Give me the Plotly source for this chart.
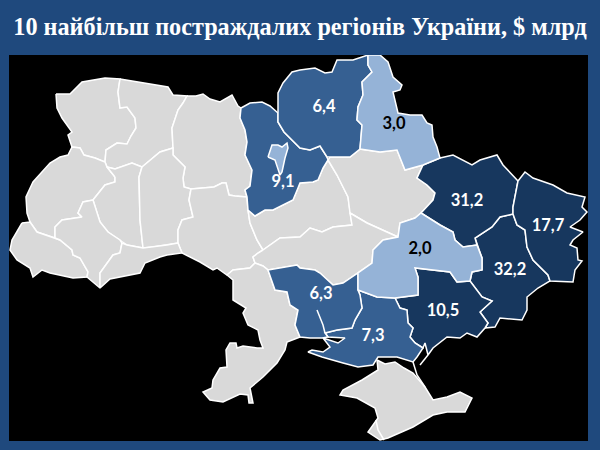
import plotly.graph_objects as go

# damage by region, $ bn
regions = ["Донецька", "Харківська", "Луганська", "Запорізька", "Київська",
           "Херсонська", "Чернігівська", "Миколаївська", "Сумська", "Дніпропетровська"]
values = [32.2, 31.2, 17.7, 10.5, 9.1, 7.3, 6.4, 6.3, 3.0, 2.0]
value_labels = ["32,2", "31,2", "17,7", "10,5", "9,1", "7,3", "6,4", "6,3", "3,0", "2,0"]

title = "10 найбільш постраждалих регіонів України, $ млрд"

BG = "#1F497D"
GREY = "#D9D9D9"
DARK = "#17375E"
MID = "#366092"
LIGHT = "#95B3D7"

# map outlines, traced in page pixels
outlines = {
    "Волинська": [(56,94),(70,94),(82,82),(105,78),(120,79),(118,92),(120,108),(127,107),(135,118),(136,128),(131,136),(127,144),(117,143),(106,150),(105,162),(95,158),(84,155),(80,148),(72,147),(68,135),(72,132),(62,118),(57,108)],
    "Рівненська": [(120,79),(145,83),(168,87),(173,95),(187,96),(183,103),(178,110),(172,128),(173,148),(160,152),(142,167),(132,163),(115,169),(107,167),(105,162),(106,150),(117,143),(127,144),(131,136),(136,128),(135,118),(127,107),(120,108),(118,92)],
    "Житомирська": [(187,96),(196,96),(203,94),(210,99),(220,102),(232,95),(238,106),(241,108),(240,118),(245,130),(247,142),(245,155),(252,170),(250,186),(245,190),(247,197),(235,196),(229,195),(226,183),(222,183),(214,187),(191,189),(184,187),(183,178),(185,167),(173,155),(173,148),(172,128),(178,110),(183,103)],
    "Львівська": [(30,222),(27,213),(26,197),(33,182),(50,163),(60,157),(68,155),(72,147),(80,148),(84,155),(95,158),(105,162),(107,167),(115,177),(115,182),(105,185),(93,200),(83,202),(78,213),(82,217),(62,220),(55,227),(55,238),(37,232)],
    "Тернопільська": [(115,177),(107,167),(115,169),(132,163),(142,167),(139,177),(140,220),(143,248),(127,245),(120,240),(108,232),(100,222),(93,200),(105,185),(115,182)],
    "Хмельницька": [(142,167),(160,152),(173,148),(173,155),(185,167),(183,178),(184,187),(191,189),(189,200),(193,217),(182,220),(178,230),(178,243),(167,245),(153,247),(143,248),(140,220),(139,177)],
    "Вінницька": [(191,189),(214,187),(222,183),(226,183),(229,195),(235,196),(247,197),(248,210),(250,223),(257,240),(263,250),(258,253),(253,257),(255,263),(250,268),(233,270),(227,275),(217,268),(213,270),(200,262),(182,253),(178,243),(178,230),(182,220),(193,217),(189,200)],
    "Закарпатська": [(22,223),(30,222),(37,232),(55,238),(60,240),(72,250),(73,255),(80,258),(88,272),(87,277),(73,278),(50,273),(42,270),(33,277),(30,268),(17,260),(10,250),(12,240)],
    "Івано-Франківська": [(55,238),(55,227),(62,220),(82,217),(78,213),(83,202),(93,200),(100,222),(108,232),(120,240),(122,243),(120,253),(113,255),(100,273),(100,288),(87,277),(88,272),(80,258),(73,255),(72,250),(60,240)],
    "Чернівецька": [(122,243),(127,245),(143,248),(153,247),(167,245),(178,243),(182,253),(167,255),(160,257),(145,263),(140,273),(110,279),(100,288),(100,273),(113,255),(120,253)],
    "Черкаська": [(328,160),(337,175),(348,197),(350,213),(352,225),(333,227),(322,232),(310,228),(300,237),(280,238),(263,250),(257,240),(250,223),(248,210),(255,216),(265,210),(273,210),(293,200),(298,188),(300,183),(313,182),(318,180),(323,168)],
    "Полтавська": [(328,160),(330,157),(350,157),(360,149),(380,152),(397,150),(405,170),(423,165),(417,178),(427,185),(435,193),(433,200),(421,213),(415,218),(400,223),(398,237),(367,223),(350,213),(348,197),(337,175)],
    "Кіровоградська": [(263,250),(280,238),(300,237),(310,228),(322,232),(333,227),(352,225),(350,213),(367,223),(398,237),(383,240),(373,250),(372,263),(358,273),(343,283),(333,285),(320,273),(315,270),(300,268),(297,265),(268,270),(263,266),(255,263),(253,257),(258,253)],
    "Одеська": [(227,275),(233,270),(250,268),(255,263),(263,266),(268,270),(275,290),(287,292),(290,305),(298,310),(295,325),(300,337),(287,342),(285,350),(277,363),(263,377),(250,388),(253,403),(249,403),(248,395),(240,394),(223,402),(210,400),(203,392),(212,388),(213,380),(220,368),(227,367),(226,350),(230,343),(236,343),(237,348),(243,346),(257,348),(263,348),(260,340),(258,330),(248,325),(243,313),(246,308),(233,300),(233,280)],
    "Крим": [(377,360),(385,364),(395,362),(404,368),(413,373),(425,387),(433,400),(447,397),(460,392),(472,398),(465,412),(447,412),(433,415),(413,427),(388,438),(380,440),(368,432),(378,418),(375,408),(357,398),(340,395),(343,390),(362,380),(378,370)],
    "Донецька": [(475,238),(492,227),(500,217),(513,214),(517,225),(525,230),(527,247),(533,260),(548,275),(550,281),(538,288),(527,297),(527,310),(522,320),(500,318),(495,327),(485,328),(488,323),(480,312),(492,301),(482,297),(470,281),(472,272),(482,270),(482,258),(477,245)],
    "Харківська": [(423,165),(440,158),(453,155),(463,160),(472,165),(480,160),(497,155),(503,165),(518,181),(513,207),(513,214),(500,217),(492,227),(475,238),(477,245),(463,247),(455,240),(453,232),(440,225),(421,213),(433,200),(435,193),(427,185),(417,178)],
    "Луганська": [(518,181),(525,172),(533,178),(553,185),(567,193),(585,197),(582,207),(587,212),(580,220),(570,227),(583,232),(573,240),(570,245),(577,248),(578,260),(582,261),(575,270),(573,282),(550,281),(548,275),(533,260),(527,247),(525,230),(517,225),(513,214),(513,207)],
    "Запорізька": [(395,298),(418,295),(418,277),(415,268),(450,272),(457,282),(470,281),(482,297),(492,301),(480,312),(488,323),(485,328),(477,337),(467,333),(460,338),(447,337),(433,348),(428,355),(425,343),(423,348),(415,343),(410,337),(413,328),(408,323),(407,310),(400,308)],
    "Київська": [(241,108),(250,103),(262,102),(270,106),(278,113),(278,122),(284,132),(290,138),(300,148),(310,150),(320,146),(327,157),(328,160),(323,168),(318,180),(313,182),(300,183),(298,188),(293,200),(273,210),(265,210),(255,216),(248,210),(247,197),(245,190),(250,186),(252,170),(245,155),(247,142),(245,130),(240,118)],
    "Херсонська": [(358,290),(377,297),(395,298),(400,308),(407,310),(408,323),(413,328),(410,337),(415,343),(423,348),(417,357),(413,362),(397,357),(378,357),(373,365),(358,367),(343,363),(322,357),(308,352),(312,350),(323,352),(330,347),(323,338),(338,343),(345,338),(328,337),(325,333),(337,330),(352,328),(355,320),(362,308),(360,295)],
    "Чернігівська": [(278,113),(278,93),(283,83),(292,72),(300,70),(315,68),(325,73),(332,72),(337,60),(353,60),(368,55),(368,65),(372,72),(362,82),(363,95),(358,107),(357,120),(362,125),(360,149),(350,157),(330,157),(327,157),(320,146),(310,150),(300,148),(290,138),(284,132),(278,122)],
    "Миколаївська": [(268,270),(297,265),(300,268),(315,270),(320,273),(333,285),(343,283),(358,273),(358,290),(360,295),(362,308),(355,320),(352,328),(337,330),(325,333),(328,337),(322,338),(310,338),(300,337),(295,325),(298,310),(290,305),(287,292),(275,290)],
    "Сумська": [(368,55),(380,55),(388,62),(393,77),(402,85),(400,90),(393,92),(397,108),(398,113),(410,115),(422,115),(427,123),(432,125),(433,137),(437,147),(440,158),(423,165),(405,170),(397,150),(380,152),(360,149),(362,125),(357,120),(358,107),(363,95),(362,82),(372,72),(368,65)],
    "Дніпропетровська": [(383,240),(373,250),(372,263),(358,273),(358,290),(377,297),(395,298),(418,295),(418,277),(415,268),(450,272),(457,282),(470,281),(472,272),(482,270),(482,258),(477,245),(463,247),(455,240),(453,232),(440,225),(421,213),(415,218),(400,223),(398,237)],
}

kyiv_city = [(268,157),(272,145),(278,145),(282,147),(287,143),(288,148),(285,158),(282,172),(280,175),(275,160)]

# rivers, spits and the like, outline only
extra_lines = [
    [(317,310),(323,325),(325,333)],
    [(376,420),(378,430),(384,440)],
    [(428,355),(422,363),(420,365)],
    [(413,362),(417,375),(425,387)],
]

label_anchors = {
    "Донецька": (510,271), "Харківська": (467,202), "Луганська": (548,227),
    "Запорізька": (443,312), "Київська": (283,183), "Херсонська": (373,337),
    "Чернігівська": (324,108), "Миколаївська": (321,295), "Сумська": (394,125),
    "Дніпропетровська": (420,250),
}


def shade(value):
    if value >= 10:
        return DARK
    if value >= 5:
        return MID
    return LIGHT


region_colors = dict(zip(regions, [shade(v) for v in values]))

fig = go.Figure()


def add_area(points, color, name):
    xs = [p[0] for p in points] + [points[0][0]]
    ys = [p[1] for p in points] + [points[0][1]]
    fig.add_trace(go.Scatter(x=xs, y=ys, mode="lines", fill="toself", fillcolor=color,
                             line=dict(color="white", width=1.5), name=name, hoverinfo="name"))


for name, points in outlines.items():
    add_area(points, region_colors.get(name, GREY), name)

add_area(kyiv_city, LIGHT, "м. Київ")

for points in extra_lines:
    fig.add_trace(go.Scatter(x=[p[0] for p in points], y=[p[1] for p in points], mode="lines",
                             line=dict(color="white", width=1.5), hoverinfo="skip"))

for name, label, value in zip(regions, value_labels, values):
    x, y = label_anchors[name]
    fig.add_trace(go.Scatter(x=[x], y=[y], mode="text", text=[label], hoverinfo="skip",
                             textfont=dict(family="Lato", size=16.5, weight=700,
                                           color="black" if value < 5 else "white")))

fig.update_layout(
    width=600,
    height=450,
    margin=dict(l=9, r=12, t=55, b=9),
    paper_bgcolor=BG,
    plot_bgcolor="black",
    showlegend=False,
    title=dict(text=title, x=0.5, xanchor="center", y=0.94, yanchor="middle",
               font=dict(family="Liberation Serif", size=24.2, weight=700, color="white")),
    xaxis=dict(range=[9, 588], visible=False, fixedrange=True),
    yaxis=dict(range=[441, 55], visible=False, fixedrange=True),
)

# browser default body margin would shift the picture
fig.write_html("out.html", config={"displayModeBar": False},
               post_script="document.body.style.margin='0';")
